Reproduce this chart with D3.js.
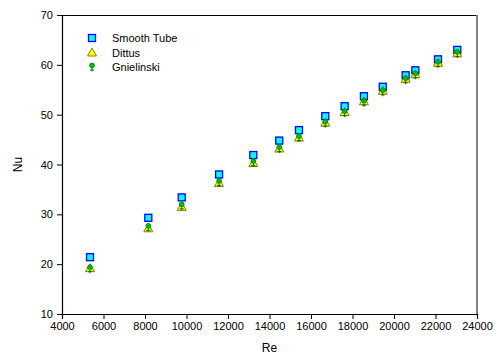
<!DOCTYPE html>
<html>
<head>
<meta charset="utf-8">
<script src="https://cdn.jsdelivr.net/npm/d3@7"></script>
<style>
  html, body { margin: 0; padding: 0; background: #fff; }
  svg text { font-family: "Liberation Sans", Arial, sans-serif; }
</style>
</head>
<body>
<svg id="chart" width="495" height="363"></svg>
<script>
// Reynolds numbers of the measured runs
const reynolds = [5350, 8160, 9770, 11570, 13220, 14470, 15420, 16690, 17620, 18550, 19460, 20560, 21030, 22120, 23050];
// Nusselt number: measured in the smooth tube
const smoothTube = [21.4, 29.3, 33.4, 38.0, 41.9, 44.8, 46.9, 49.7, 51.7, 53.7, 55.6, 57.9, 58.9, 61.1, 63.0];
// Dittus-Boelter correlation
const dittus = [19.2, 27.2, 31.5, 36.3, 40.3, 43.2, 45.4, 48.4, 50.5, 52.7, 54.8, 57.2, 58.1, 60.4, 62.3];
// Gnielinski correlation
const gnielinski = [19.4, 27.7, 32.0, 36.7, 40.7, 43.5, 45.7, 48.6, 50.7, 52.8, 54.9, 57.3, 58.3, 60.6, 62.6];

const xTicks = [4000, 6000, 8000, 10000, 12000, 14000, 16000, 18000, 20000, 22000, 24000];
const yTicks = [10, 20, 30, 40, 50, 60, 70];
const seriesNames = ["Smooth Tube", "Dittus", "Gnielinski"];

const svg = d3.select("#chart");
const plotLeft = 62, plotRight = 477, plotTop = 15, plotBottom = 314;

const x = d3.scaleLinear().domain([4000, 24000]).range([plotLeft, plotRight]);
const y = d3.scaleLinear().domain([10, 70]).range([plotBottom, plotTop]);

// frame: top black, right grey
svg.append("line").attr("x1", plotLeft).attr("x2", plotRight).attr("y1", plotTop + 0.5).attr("y2", plotTop + 0.5)
  .attr("stroke", "#000").attr("stroke-width", 1);
svg.append("line").attr("x1", plotRight).attr("x2", plotRight).attr("y1", plotTop).attr("y2", plotBottom)
  .attr("stroke", "#808080").attr("stroke-width", 2);

// axes
const xAxis = svg.append("g").attr("transform", `translate(0,${plotBottom})`)
  .call(d3.axisBottom(x).tickValues(xTicks).tickFormat(d3.format("d")).tickSizeOuter(0).tickSize(5).tickPadding(3));
const yAxis = svg.append("g").attr("transform", `translate(${plotLeft},0)`)
  .call(d3.axisLeft(y).tickValues(yTicks).tickFormat(d3.format("d")).tickSizeOuter(0).tickSize(5).tickPadding(4));
[xAxis, yAxis].forEach(g => {
  g.select(".domain").attr("stroke", "#000").attr("stroke-width", 1.2);
  g.selectAll(".tick line").attr("stroke", "#000");
  g.selectAll(".tick text").attr("font-size", 11).attr("fill", "#000")
    .attr("font-family", "Liberation Sans, Arial, sans-serif");
});

svg.append("text").attr("x", (plotLeft + plotRight) / 2).attr("y", 352).attr("text-anchor", "middle")
  .attr("font-size", 12).text("Re");
svg.append("text").attr("transform", `translate(22,${(plotTop + plotBottom) / 2}) rotate(-90)`)
  .attr("text-anchor", "middle").attr("font-size", 12).text("Nu");

// marker drawers
function square(g, cx, cy) {
  g.append("rect").attr("x", cx - 3.5).attr("y", cy - 3.5).attr("width", 7).attr("height", 7)
    .attr("fill", "#00ffff").attr("stroke", "#0000ff").attr("stroke-width", 1.3);
}
function triangle(g, cx, cy) {
  g.append("path").attr("d", `M${cx},${cy - 4.5}L${cx + 4.5},${cy + 3.5}L${cx - 4.5},${cy + 3.5}Z`)
    .attr("fill", "#ffff00").attr("stroke", "#808000").attr("stroke-width", 1);
}
function pin(g, cx, cy) {
  g.append("line").attr("x1", cx).attr("x2", cx).attr("y1", cy).attr("y2", cy + 6)
    .attr("stroke", "#007000").attr("stroke-width", 1);
  g.append("line").attr("x1", cx - 2).attr("x2", cx + 2).attr("y1", cy + 4.5).attr("y2", cy + 4.5)
    .attr("stroke", "#007000").attr("stroke-width", 1);
  g.append("circle").attr("cx", cx).attr("cy", cy).attr("r", 2.4)
    .attr("fill", "#00c000").attr("stroke", "#008000").attr("stroke-width", 0.8);
}

const marks = svg.append("g");
reynolds.forEach((re, i) => square(marks, x(re), y(smoothTube[i])));
reynolds.forEach((re, i) => triangle(marks, x(re), y(dittus[i])));
reynolds.forEach((re, i) => pin(marks, x(re), y(gnielinski[i])));

// legend
const drawers = [square, triangle, pin];
const legend = svg.append("g");
seriesNames.forEach((name, i) => {
  const ly = 38 + i * 14.5;
  drawers[i](legend, 92, i === 2 ? ly - 1.5 : ly);
  legend.append("text").attr("x", 112).attr("y", ly + 4).attr("font-size", 11).text(name);
});
</script>
</body>
</html>
